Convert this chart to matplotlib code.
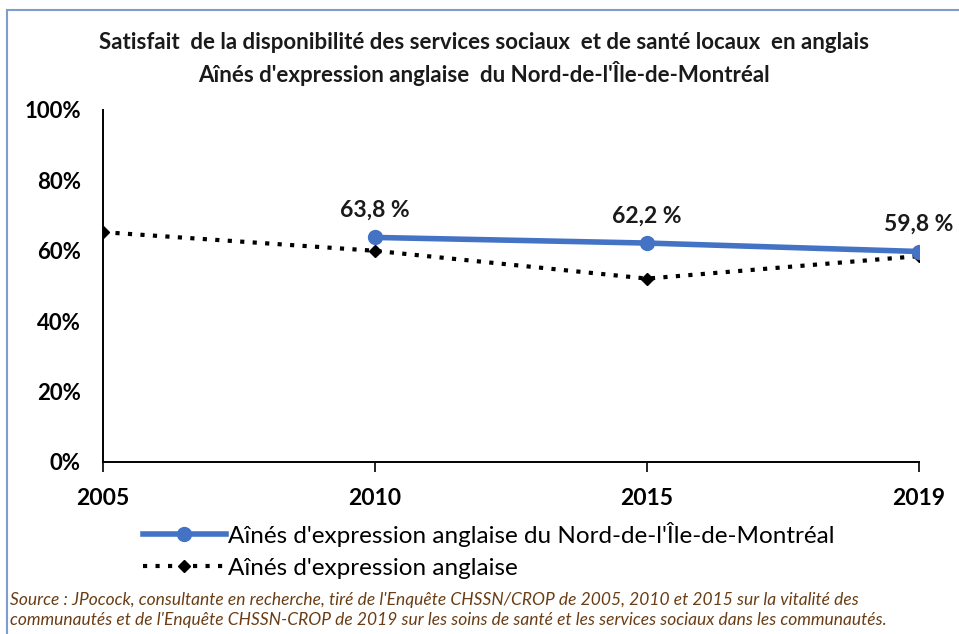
import matplotlib.pyplot as plt
from matplotlib.patches import Rectangle

# data
years = ['2005', '2010', '2015', '2019']
nord_x = [1, 2, 3]
nord_vals = [0.638, 0.622, 0.598]
nord_labels = ['63,8 %', '62,2 %', '59,8 %']
all_vals = [0.653, 0.600, 0.521, 0.585]

title = ("Satisfait  de la disponibilité des services sociaux  et de santé locaux  en anglais\n"
         "Aînés d'expression anglaise  du Nord-de-l'Île-de-Montréal")
legend_labels = ["Aînés d'expression anglaise du Nord-de-l'Île-de-Montréal",
                 "Aînés d'expression anglaise"]
source = ("Source : JPocock, consultante en recherche, tiré de l'Enquête CHSSN/CROP de 2005, 2010 et 2015 sur la vitalité des\n"
          "communautés et de l'Enquête CHSSN-CROP de 2019 sur les soins de santé et les services sociaux dans les communautés.")

plt.rcParams['font.family'] = ['Lato', 'DejaVu Sans']

W, H = 959, 634
fig = plt.figure(figsize=(W / 100, H / 100), dpi=100)
fig.patch.set_facecolor('white')

# blue frame of the chart box
fig.patches.append(Rectangle((7 / W, -0.05), 1.0, 1 - 10 / H + 0.05, transform=fig.transFigure,
                             fill=False, edgecolor='#7f9bd0', linewidth=1.5))

ax = fig.add_axes([103 / W, 1 - 462 / H, (919 - 103) / W, (462 - 110) / H])

l2, = ax.plot(range(4), all_vals, color='black', linestyle=(0, (1, 2)), linewidth=3.0,
              marker='D', markersize=6, markerfacecolor='black', markeredgecolor='black')
l1, = ax.plot(nord_x, nord_vals, color='#4472c4', linewidth=4.0, marker='o', markersize=10,
              markeredgecolor='#4472c4')

for x, v, s in zip(nord_x, nord_vals, nord_labels):
    ax.annotate(s, (x, v), xytext=(0, 12), textcoords='offset points', ha='center', va='bottom',
                fontsize=16.5, fontweight='bold', color='#1a1a1a')

ax.set_xlim(0, 3)
ax.set_ylim(0, 1)
ax.set_xticks(range(4))
ax.set_xticklabels(years, fontsize=16.5, fontweight='bold')
ax.set_yticks([0, 0.2, 0.4, 0.6, 0.8, 1.0])
ax.set_yticklabels(['0%', '20%', '40%', '60%', '80%', '100%'], fontsize=16, fontweight='bold')
ax.tick_params(axis='y', length=0, pad=16)
ax.tick_params(axis='x', length=7, width=1.2, direction='out', pad=12)
for s in ['top', 'right']:
    ax.spines[s].set_visible(False)
for s in ['left', 'bottom']:
    ax.spines[s].set_linewidth(1.4)
    ax.spines[s].set_color('black')

fig.text(484 / W, 1 - 59 / H, title, ha='center', va='center', fontsize=16, fontweight='bold',
         linespacing=1.35, color='#1a1a1a')

fig.legend([l1, l2], legend_labels, loc='upper left', bbox_to_anchor=(143 / W, 1 - 522 / H),
           frameon=False, fontsize=17.5, handlelength=3.4, handletextpad=0.1,
           labelspacing=0.45, borderpad=0, borderaxespad=0)

fig.text(10 / W, 1 - 610 / H, source, ha='left', va='center', fontsize=12.5, style='italic',
         color='#6b3d14', linespacing=1.35)

fig.savefig('out.png', dpi=100)
